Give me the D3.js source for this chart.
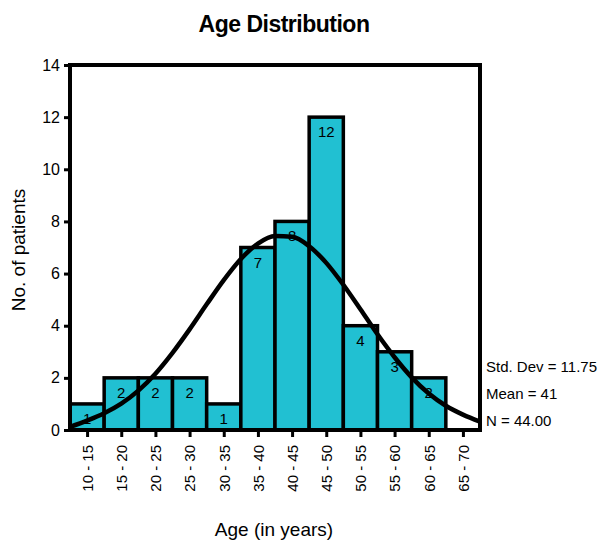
<!DOCTYPE html>
<html>
<head>
<meta charset="utf-8">
<script src="https://cdn.jsdelivr.net/npm/d3@7"></script>
<style>
  body { margin: 0; background: #fff; }
  svg { font-family: "Liberation Sans", Arial, sans-serif; }
</style>
</head>
<body>
<svg id="chart" width="600" height="544"></svg>
<script>
// bins of age (years) and patient counts
let binStarts = [10, 15, 20, 25, 30, 35, 40, 45, 50, 55, 60, 65];
let counts = [1, 2, 2, 2, 1, 7, 8, 12, 4, 3, 2, 0];
let yTicks = [0, 2, 4, 6, 8, 10, 12, 14];

// fitted normal curve, every 2.5 years
let curveAges = [10, 12.5, 15, 17.5, 20, 22.5, 25, 27.5, 30, 32.5, 35, 37.5, 40,
    42.5, 45, 47.5, 50, 52.5, 55, 57.5, 60, 62.5, 65, 67.5, 70];
let curveVals = [0.12, 0.36, 0.64, 1.01, 1.51, 2.16, 2.96, 3.86, 4.82, 5.75, 6.56, 7.15, 7.44,
    7.41, 7.05, 6.41, 5.57, 4.63, 3.67, 2.79, 2.02, 1.40, 0.93, 0.59, 0.32];

let statLines = ["Std. Dev = 11.75", "Mean = 41", "N = 44.00"];

let svg = d3.select("#chart");
let plotLeft = 70, plotRight = 480, plotTop = 65, plotBottom = 430;

let x = d3.scaleLinear().domain([10, 70]).range([plotLeft, plotRight]);
let y = d3.scaleLinear().domain([0, 14]).range([plotBottom, plotTop]);

// title
svg.append("text")
    .attr("x", 284).attr("y", 32)
    .attr("text-anchor", "middle")
    .attr("font-size", "23px")
    .attr("font-weight", "bold")
    .attr("letter-spacing", "-0.5")
    .text("Age Distribution");

// bars
svg.selectAll("rect.bar")
    .data(binStarts).enter()
    .append("rect")
    .attr("class", "bar")
    .attr("x", d => x(d))
    .attr("width", d => x(d + 5) - x(d))
    .attr("y", (d, i) => y(counts[i]))
    .attr("height", (d, i) => y(0) - y(counts[i]))
    .attr("fill", "#21c0d2")
    .attr("stroke", "#000")
    .attr("stroke-width", 3.5);

// bar labels
svg.selectAll("text.count")
    .data(binStarts.filter((d, i) => counts[i] > 0)).enter()
    .append("text")
    .attr("class", "count")
    .attr("x", d => x(d + 2.5))
    .attr("y", d => y(counts[binStarts.indexOf(d)]) + 20)
    .attr("text-anchor", "middle")
    .attr("font-size", "15px")
    .text(d => counts[binStarts.indexOf(d)]);

// normal curve
let line = d3.line()
    .x((d, i) => x(curveAges[i]))
    .y(d => y(d))
    .curve(d3.curveMonotoneX);

svg.append("path")
    .attr("d", line(curveVals))
    .attr("fill", "none")
    .attr("stroke", "#000")
    .attr("stroke-width", 4.5);

// frame
svg.append("rect")
    .attr("x", plotLeft).attr("y", plotTop)
    .attr("width", plotRight - plotLeft).attr("height", plotBottom - plotTop)
    .attr("fill", "none")
    .attr("stroke", "#000")
    .attr("stroke-width", 4);

// y axis
let yAxis = svg.append("g")
    .attr("transform", "translate(" + (plotLeft - 2) + ",0)")
    .call(d3.axisLeft(y).tickValues(yTicks).tickSize(4).tickPadding(4));
yAxis.select(".domain").remove();
yAxis.selectAll("line").attr("stroke-width", 3);
yAxis.selectAll("text").attr("font-size", "16px").attr("font-family", "Liberation Sans, Arial, sans-serif").attr("fill", "#000");

// x axis: one tick per bin, labels rotated
let xAxis = svg.append("g")
    .attr("transform", "translate(0," + (plotBottom + 2) + ")")
    .call(d3.axisBottom(x)
        .tickValues(binStarts.map(d => d + 2.5))
        .tickFormat(d => (d - 2.5) + " - " + (d + 2.5))
        .tickSize(5).tickPadding(6));
xAxis.select(".domain").remove();
xAxis.selectAll("line").attr("stroke-width", 3);
xAxis.selectAll("text")
    .attr("font-size", "15px")
    .attr("font-family", "Liberation Sans, Arial, sans-serif")
    .attr("fill", "#000")
    .attr("transform", "rotate(-90)")
    .attr("text-anchor", "end")
    .attr("x", -13).attr("y", 0)
    .attr("dy", "0.35em");

// axis titles
svg.append("text")
    .attr("transform", "translate(25,250) rotate(-90)")
    .attr("text-anchor", "middle")
    .attr("font-size", "19px")
    .text("No. of patients");

svg.append("text")
    .attr("x", 274).attr("y", 536)
    .attr("text-anchor", "middle")
    .attr("font-size", "19px")
    .text("Age (in years)");

// stats
svg.selectAll("text.stat")
    .data(statLines).enter()
    .append("text")
    .attr("class", "stat")
    .attr("x", 486)
    .attr("y", (d, i) => 372 + i * 27)
    .attr("font-size", "15px")
    .text(d => d);
</script>
</body>
</html>
